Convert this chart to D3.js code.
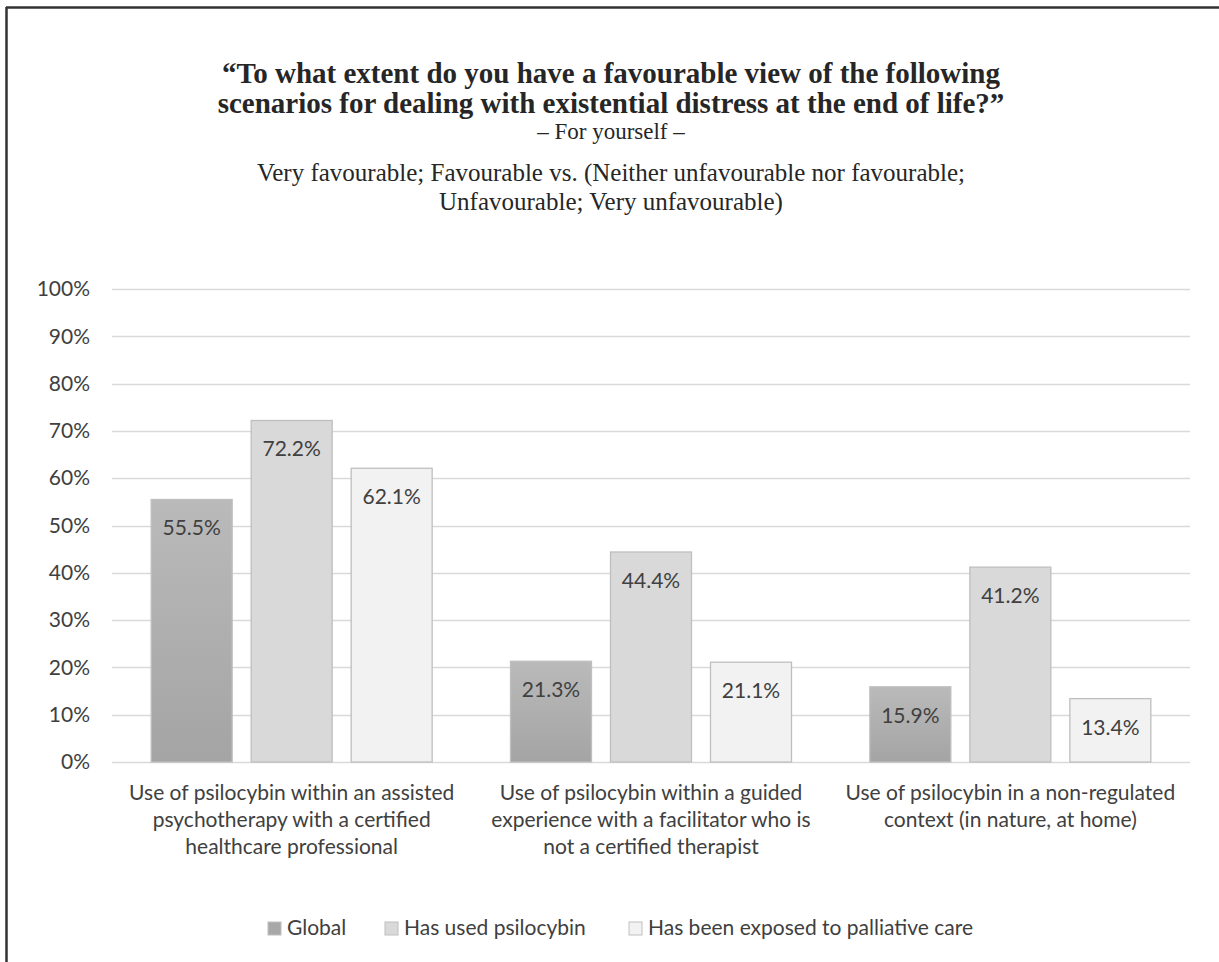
<!DOCTYPE html>
<html><head><meta charset="utf-8">
<script src="https://cdn.jsdelivr.net/npm/d3@7"></script>
<style>body{margin:0;background:#fff;} svg{display:block;}</style>
</head><body>
<script>
const categories = [
  ["Use of psilocybin within an assisted", "psychotherapy with a certified", "healthcare professional"],
  ["Use of psilocybin within a guided", "experience with a facilitator who is", "not a certified therapist"],
  ["Use of psilocybin in a non-regulated", "context (in nature, at home)"]
];
const seriesNames = ["Global", "Has used psilocybin", "Has been exposed to palliative care"];
const globalVals = [55.5, 21.3, 15.9];
const psilocybinVals = [72.2, 44.4, 41.2];
const palliativeVals = [62.1, 21.1, 13.4];
const yTicks = [0, 10, 20, 30, 40, 50, 60, 70, 80, 90, 100];
const titleLines = ["\u201cTo what extent do you have a favourable view of the following", "scenarios for dealing with existential distress at the end of life?\u201d"];
const titleSub = "\u2013 For yourself \u2013";
const subtitleLines = ["Very favourable; Favourable vs. (Neither unfavourable nor favourable;", "Unfavourable; Very unfavourable)"];

const W = 1219, H = 962;
const svg = d3.select("body").append("svg").attr("width", W).attr("height", H);
const defs = svg.append("defs");
const grad = defs.append("linearGradient").attr("id", "gGlobal").attr("x1", 0).attr("y1", 0).attr("x2", 0).attr("y2", 1);
grad.append("stop").attr("offset", "0%").attr("stop-color", "#bababa");
grad.append("stop").attr("offset", "100%").attr("stop-color", "#a4a4a4");
const fills = ["url(#gGlobal)", "#d9d9d9", "#f2f2f2"];
const legendFills = ["#a8a8a8", "#d9d9d9", "#f2f2f2"];

// frame
svg.append("line").attr("x1", 6).attr("x2", W).attr("y1", 7.5).attr("y2", 7.5).attr("stroke", "#333").attr("stroke-width", 2.5);
svg.append("line").attr("x1", 6.5).attr("x2", 6.5).attr("y1", 7).attr("y2", H).attr("stroke", "#333").attr("stroke-width", 2.5);

const cx = 611;
const serif = "'Liberation Serif','Times New Roman',serif";
const sans = "Lato, 'Noto Sans', sans-serif";
const fs = 21;
svg.append("g").selectAll("text").data(titleLines).join("text")
  .attr("x", cx).attr("y", (d, i) => 83 + i * 30)
  .attr("text-anchor", "middle").attr("font-family", serif).attr("font-weight", "bold")
  .attr("font-size", 29).attr("fill", "#262626").text(d => d);
svg.append("text").attr("x", cx).attr("y", 139).attr("text-anchor", "middle")
  .attr("font-family", serif).attr("font-size", 23).attr("fill", "#262626").text(titleSub);
svg.append("g").selectAll("text").data(subtitleLines).join("text")
  .attr("x", cx).attr("y", (d, i) => 181 + i * 29)
  .attr("text-anchor", "middle").attr("font-family", serif)
  .attr("font-size", 25).attr("fill", "#262626").text(d => d);

const x0 = d3.scaleBand().domain(d3.range(categories.length)).range([112, 1190]).paddingInner(0).paddingOuter(0);
const gw = 281;
const x1 = d3.scaleBand().domain(d3.range(3)).range([0, gw]).paddingInner(0.19);
const y = d3.scaleLinear().domain([0, 100]).range([762, 289]);

// gridlines
svg.append("g").selectAll("line").data(yTicks).join("line")
  .attr("x1", 112).attr("x2", 1190).attr("y1", d => Math.round(y(d)) + 0.5).attr("y2", d => Math.round(y(d)) + 0.5)
  .attr("stroke", "#d9d9d9").attr("stroke-width", 1.3);

const yAxis = svg.append("g").attr("transform", "translate(112,0)")
  .call(d3.axisLeft(y).tickValues(yTicks).tickFormat(d => d + "%").tickSize(0).tickPadding(22));
yAxis.select(".domain").remove();
yAxis.selectAll("text").attr("font-family", sans).attr("font-size", fs).attr("fill", "#404040");

const seriesVals = [globalVals, psilocybinVals, palliativeVals];
const data = [];
categories.forEach((c, ci) => seriesVals.forEach((vals, si) => data.push({ci, si, v: vals[ci]})));

const bars = svg.append("g");
bars.selectAll("rect").data(data).join("rect")
  .attr("x", d => x0(d.ci) + (x0.bandwidth() - gw) / 2 + x1(d.si))
  .attr("width", x1.bandwidth())
  .attr("y", d => y(d.v))
  .attr("height", d => y(0) - y(d.v))
  .attr("fill", d => fills[d.si])
  .attr("stroke", "#bfbfbf").attr("stroke-width", 1.3);

bars.selectAll("text").data(data).join("text")
  .attr("x", d => x0(d.ci) + (x0.bandwidth() - gw) / 2 + x1(d.si) + x1.bandwidth() / 2)
  .attr("y", d => y(d.v) + 36)
  .attr("text-anchor", "middle").attr("font-family", sans).attr("font-size", fs).attr("fill", "#404040")
  .text(d => d.v.toFixed(1) + "%");

// category labels
const cat = svg.append("g").selectAll("g").data(categories).join("g")
  .attr("transform", (d, i) => `translate(${x0(i) + x0.bandwidth() / 2},0)`);
cat.selectAll("text").data(d => d).join("text")
  .attr("x", 0).attr("y", (d, i) => 800 + i * 27)
  .attr("text-anchor", "middle").attr("font-family", sans).attr("font-size", fs).attr("fill", "#404040")
  .text(d => d);

// legend
const legendX = [268, 385, 629];
const lg = svg.append("g").selectAll("g").data(seriesNames).join("g")
  .attr("transform", (d, i) => `translate(${legendX[i]},922)`);
lg.append("rect").attr("width", 13).attr("height", 13)
  .attr("fill", (d, i) => legendFills[i]).attr("stroke", "#bfbfbf").attr("stroke-width", 1);
lg.append("text").attr("x", 19).attr("y", 13).attr("font-family", sans).attr("font-size", fs).attr("fill", "#404040").text(d => d);
</script>
</body></html>
